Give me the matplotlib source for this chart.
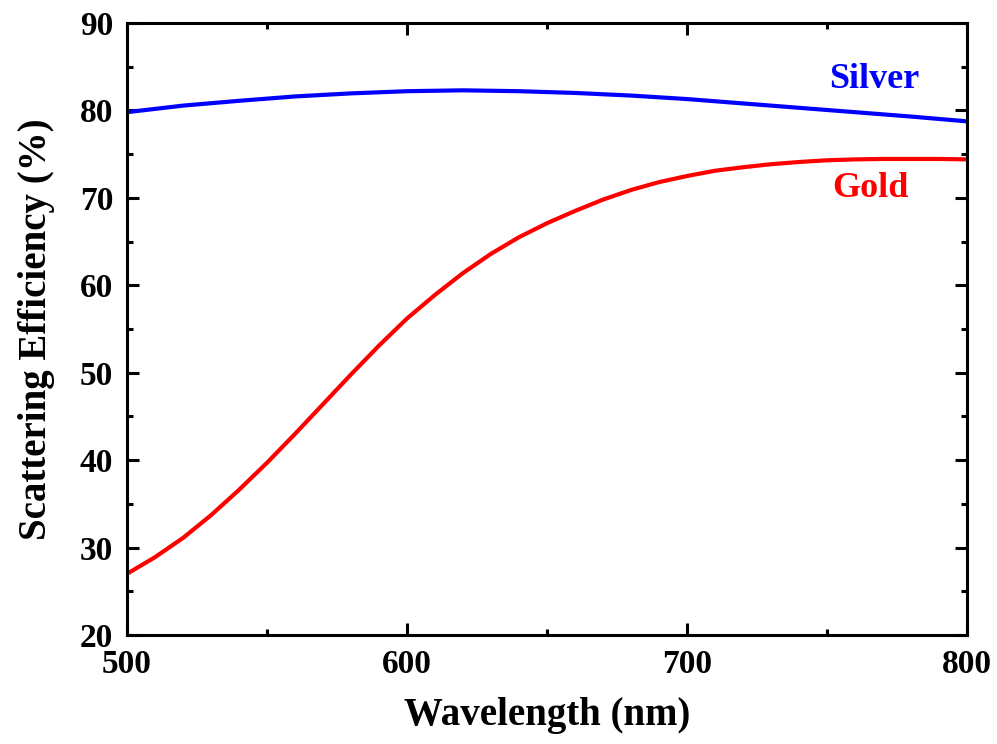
import numpy as np
import matplotlib
matplotlib.use("Agg")
import matplotlib.pyplot as plt
from matplotlib.ticker import MultipleLocator

# scattering efficiency vs wavelength for gold and silver particles
silver_wl = [500, 520, 540, 560, 580, 600, 620, 640, 660, 680, 700, 720, 740, 760, 780, 800]
silver_eff = [79.8, 80.55, 81.1, 81.6, 81.95, 82.2, 82.3, 82.2, 82.0, 81.7, 81.3,
              80.8, 80.3, 79.8, 79.3, 78.75]

gold_wl = [500, 510, 520, 530, 540, 550, 560, 570, 580, 590, 600, 610, 620, 630, 640,
           650, 660, 670, 680, 690, 700, 710, 720, 730, 740, 750, 760, 770, 780, 790, 800]
gold_eff = [27.0, 28.9, 31.1, 33.7, 36.6, 39.7, 43.0, 46.4, 49.8, 53.1, 56.2, 58.9,
            61.4, 63.6, 65.5, 67.1, 68.5, 69.8, 70.9, 71.8, 72.5, 73.1, 73.5, 73.85,
            74.1, 74.3, 74.4, 74.45, 74.45, 74.45, 74.4]

plt.rcParams['font.family'] = ['Liberation Serif', 'DejaVu Serif']
plt.rcParams['font.weight'] = 'bold'

fig = plt.figure(figsize=(9.97, 7.44), dpi=100)
ax = fig.add_axes([127/997, 1 - 635/744, 840/997, 612/744])

ax.plot(silver_wl, silver_eff, color='#0000ff', lw=3)
ax.plot(gold_wl, gold_eff, color='#ff0000', lw=3)

ax.set_xlim(500, 800)
ax.set_ylim(20, 90)
ax.xaxis.set_major_locator(MultipleLocator(100))
ax.xaxis.set_minor_locator(MultipleLocator(50))
ax.yaxis.set_major_locator(MultipleLocator(10))
ax.yaxis.set_minor_locator(MultipleLocator(5))

for s in ax.spines.values():
    s.set_linewidth(2.2)
ax.tick_params(which='both', direction='in', top=True, right=True, width=2.2)
ax.tick_params(which='major', length=8.5, labelsize=24, pad=10)
ax.tick_params(which='minor', length=4.5)
for lab in ax.get_xticklabels() + ax.get_yticklabels():
    lab.set_fontweight('bold')

ax.set_xlabel('Wavelength (nm)', fontsize=28, fontweight='bold', labelpad=12)
ax.set_ylabel('Scattering Efficiency (%)', fontsize=28, fontweight='bold', labelpad=18)

# curve names next to the lines
ax.text(0.89, 0.907, 'Silver', color='#0000ff', fontsize=26, fontweight='bold',
        transform=ax.transAxes, ha='center', va='center')
ax.text(0.885, 0.729, 'Gold', color='#ff0000', fontsize=26, fontweight='bold',
        transform=ax.transAxes, ha='center', va='center')

fig.savefig('out.png', dpi=100)
